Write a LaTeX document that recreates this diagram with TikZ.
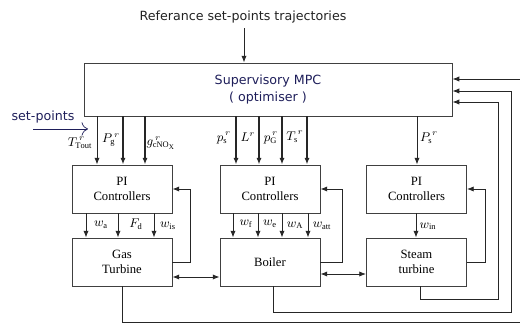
\documentclass[tikz,border=0pt]{standalone}
\usepackage{fontspec}
\setmainfont{Liberation Serif}
\newfontfamily\sanslabel{DejaVu Sans}
\usepackage{tikz}
\usetikzlibrary{arrows.meta}
\definecolor{navytext}{HTML}{1E1E5A}
\definecolor{inktext}{HTML}{222222}

\begin{document}
\begin{tikzpicture}[
  x=0.025cm, y=-0.025cm,
  font=\small,
  block/.style={rectangle, draw=black!75, line width=0.6pt, minimum width=2.5cm,
                minimum height=1.2cm, align=center, inner sep=2pt},
  arrow/.style={-{Latex[length=1.7mm,width=1.3mm]}, line width=0.6pt, black!85},
  heavy/.style={arrow, line width=1pt},
  darrow/.style={{Latex[length=1.7mm,width=1.3mm]}-{Latex[length=1.7mm,width=1.3mm]}, line width=0.6pt, black!85},
  sig/.style={inner sep=0pt},
  note/.style={font=\sanslabel\small, text=navytext, align=center},
]
  \useasboundingbox (0,0) rectangle (520,327);
  \clip (0,0) rectangle (520,327);

  \node[note, text=inktext] (title) at (243,17) {Referance set-points trajectories};
  \node[block, note, minimum width=9.2cm, minimum height=1.325cm] (mpc) at (268,89.5)
    {Supervisory MPC\\[1pt]( optimiser )};
  \node[note] (sp) at (43,117) {set-points};
  \coordinate (spin) at (33,129);
  \coordinate (spout) at (88,129);

  \node[block] (pi1) at (122,189) {PI\\Controllers};
  \node[block] (pi2) at (270,189) {PI\\Controllers};
  \node[block] (pi3) at (416.5,189) {PI\\Controllers};
  \node[block] (gt) at (122,262) {Gas\\Turbine};
  \node[block] (boiler) at (270,262) {Boiler};
  \node[block] (st) at (416.5,262) {Steam\\turbine};

  \draw[arrow] (title.south -| 244,0) -- (mpc.north -| 244,0);
  \draw[-{To[length=1.6mm]}, line width=0.5pt, navytext] (spin) -- (spout);

  \draw[arrow] (mpc.south -| 97,0) -- (pi1.north -| 97,0);
  \foreach \xx in {123,145}
    \draw[heavy] (mpc.south -| \xx,0) -- (pi1.north -| \xx,0);
  \foreach \xx in {236,259,282,307}
    \draw[heavy] (mpc.south -| \xx,0) -- (pi2.north -| \xx,0);
  \draw[arrow] (mpc.south -| 417,0) -- (pi3.north -| 417,0);

  \foreach \xx in {86,118,154}
    \draw[arrow] (pi1.south -| \xx,0) -- (gt.north -| \xx,0);
  \foreach \xx in {233,258,282,308}
    \draw[arrow] (pi2.south -| \xx,0) -- (boiler.north -| \xx,0);
  \draw[arrow] (pi3.south -| 416,0) -- (st.north -| 416,0);

  \node[sig] (ttout) at (80,143) {$T^{\,r}_{\mathrm{Tout}}$};
  \node[sig] (pg) at (111,140) {$P^{\,r}_{\mathrm{g}}$};
  \node[sig] (gnox) at (161,143) {$g^{\,r}_{\mathrm{cNO}_\mathrm{X}}$};
  \node[sig] (ps) at (224,138) {$p^{\,r}_{\mathrm{s}}$};
  \node[sig] (lr) at (248,137) {$L^{r}$};
  \node[sig] (pgg) at (271,138) {$p^{\,r}_{\mathrm{G}}$};
  \node[sig] (ts) at (295,137) {$T^{\,r}_{\mathrm{s}}$};
  \node[sig] (pss) at (429,138) {$P^{\,r}_{\mathrm{s}}$};

  \node[sig] (wa) at (101,225) {$w_{\mathrm{a}}$};
  \node[sig] (fd) at (136,224) {$F_{\mathrm{d}}$};
  \node[sig] (wis) at (168,226) {$w_{\mathrm{is}}$};
  \node[sig] (wf) at (246,224) {$w_{\mathrm{f}}$};
  \node[sig] (we) at (270,224) {$w_{\mathrm{e}}$};
  \node[sig] (wA) at (295,225) {$w_{\mathrm{A}}$};
  \node[sig] (watt) at (322,226) {$w_{\mathrm{att}}$};
  \node[sig] (win) at (428,226) {$w_{\mathrm{in}}$};

  \draw[arrow] (gt.east) -- ++(18,0) |- (pi1.east);
  \draw[arrow] (boiler.east) -- ++(22,0) |- (pi2.east);
  \draw[arrow] (st.east) -- ++(18,0) |- (pi3.east);

  \draw[darrow] (gt.east |- 0,277) -- (boiler.west |- 0,277);
  \draw[darrow] (boiler.east |- 0,274) -- (st.west |- 0,274);

  \draw[arrow] (st.south -| 420,0) |- (498,299) -- (498,102) -- (mpc.east |- 0,102);
  \draw[arrow] (boiler.south -| 273,0) |- (511,312) -- (511,91) -- (mpc.east |- 0,91);
  \draw[arrow] (gt.south) |- (524,322) -- (524,79) -- (mpc.east |- 0,79);
\end{tikzpicture}
\end{document}
